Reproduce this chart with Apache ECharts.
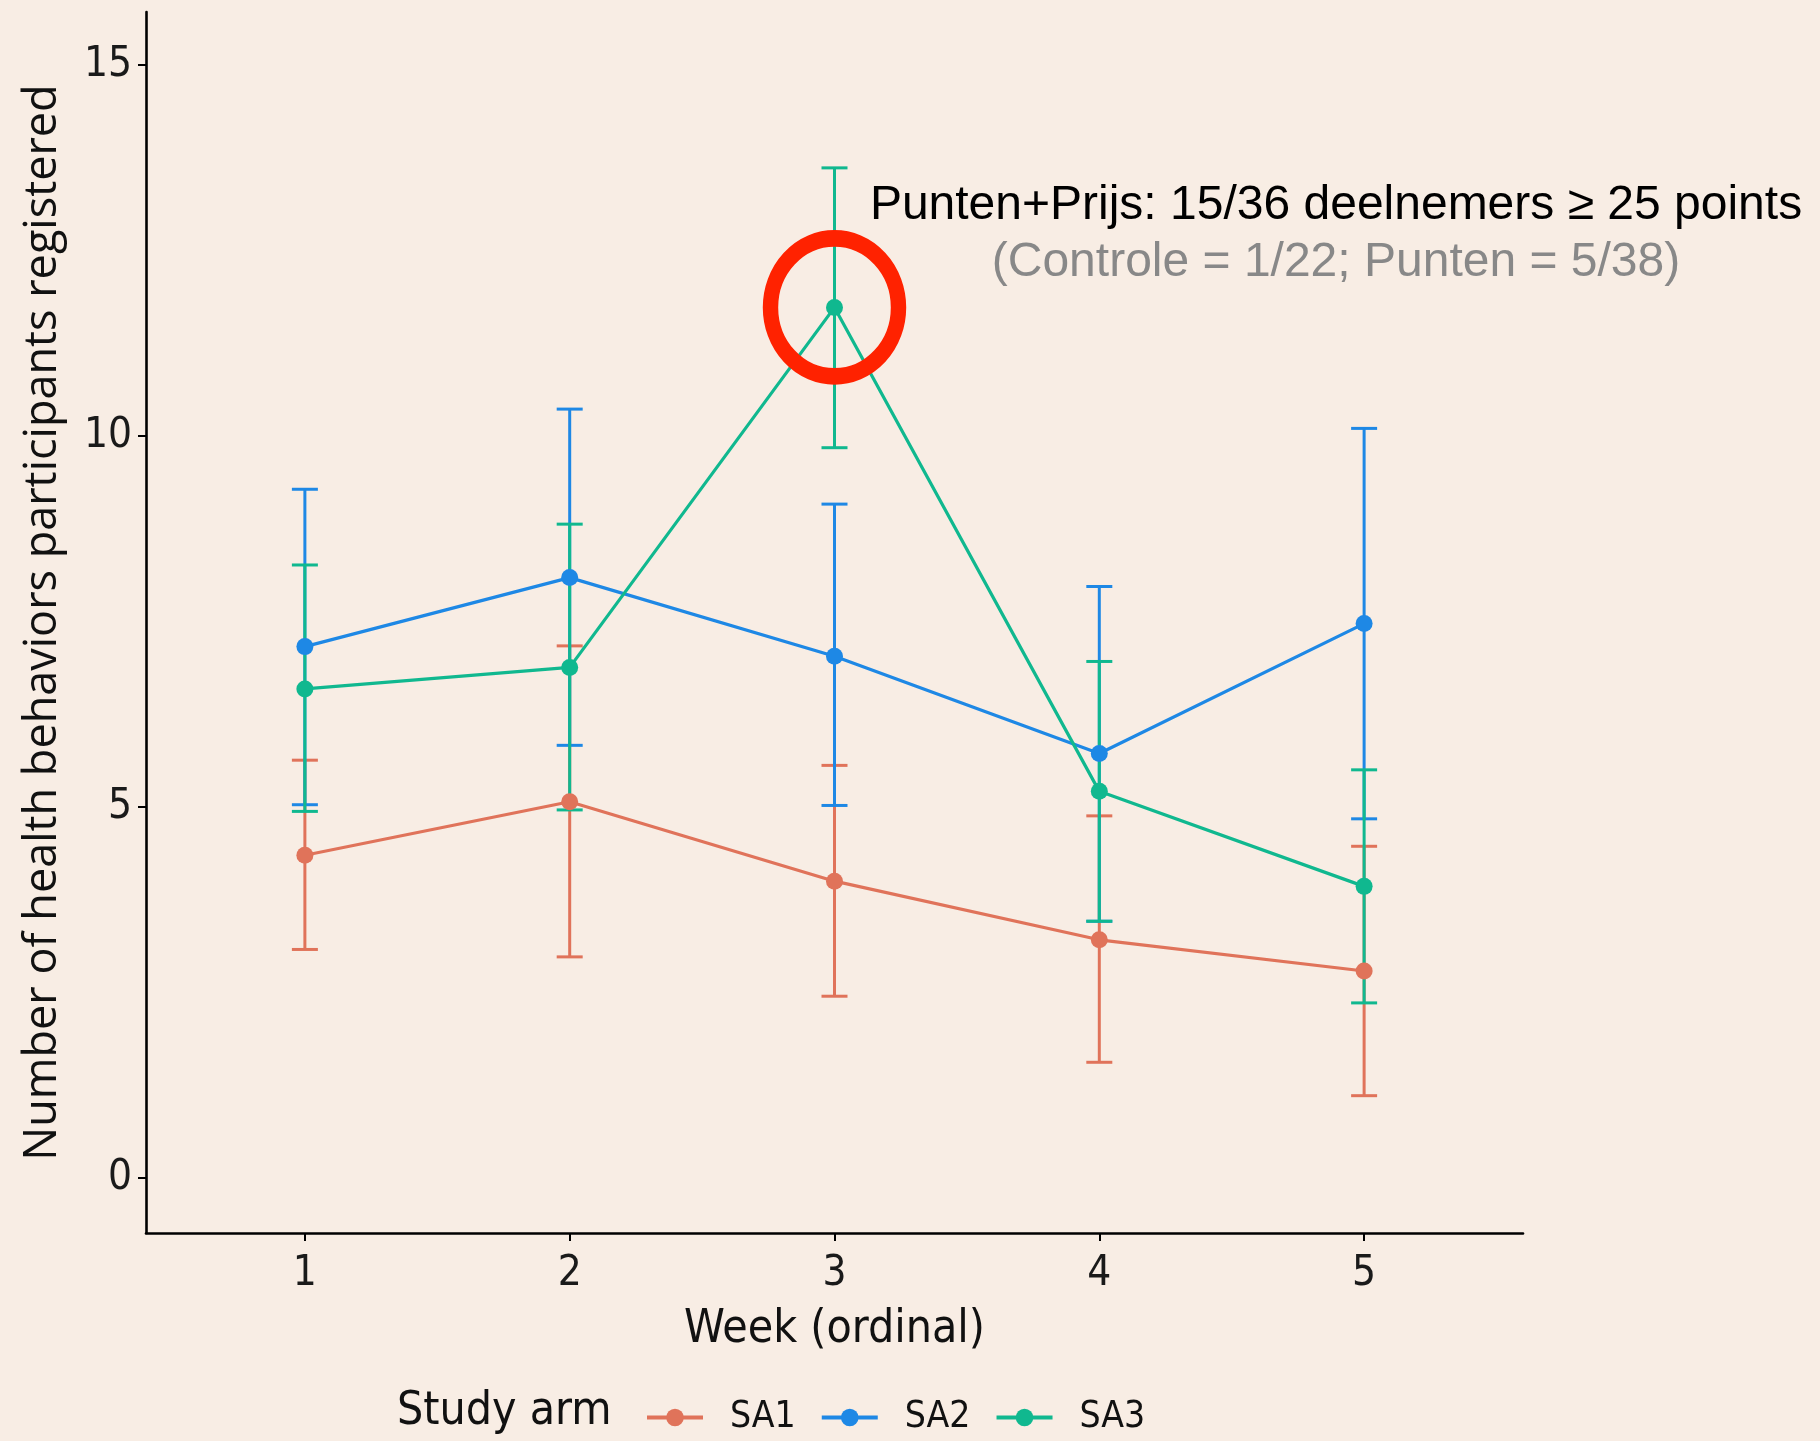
<!DOCTYPE html>
<html>
<head>
<meta charset="utf-8">
<script src="https://cdn.jsdelivr.net/npm/echarts@6/dist/echarts.min.js"></script>
<style>
  html, body { margin: 0; padding: 0; background: #f8ede4; }
  #chart { width: 1820px; height: 1441px; }
</style>
</head>
<body>
<div id="chart"></div>
<script>
// ---- Data ----
const weeks = [1, 2, 3, 4, 5];
const xTicks = [1, 2, 3, 4, 5];
const yTicks = [0, 5, 10, 15];

const sa1Mean  = [4.35, 5.07, 4.00, 3.21, 2.79];
const sa1Lower = [3.08, 2.98, 2.45, 1.56, 1.11];
const sa1Upper = [5.63, 7.17, 5.56, 4.88, 4.47];

const sa2Mean  = [7.16, 8.09, 7.03, 5.72, 7.47];
const sa2Lower = [5.03, 5.83, 5.02, 3.46, 4.84];
const sa2Upper = [9.28, 10.36, 9.08, 7.97, 10.10];

const sa3Mean  = [6.59, 6.88, 11.73, 5.21, 3.93];
const sa3Lower = [4.94, 4.96, 9.84, 3.46, 2.36];
const sa3Upper = [8.26, 8.81, 13.61, 6.96, 5.50];

const seriesNames = ['SA1', 'SA2', 'SA3'];
const highlightWeek = 3;   // the circled point (SA3, week 3)

const annotationLine1 = 'Punten+Prijs: 15/36 deelnemers \u2265 25 points';
const annotationLine2 = '(Controle = 1/22; Punten = 5/38)';

// ---- Styling ----
const colors = ['#e0735a', '#1e88e5', '#10b88f'];
const condensed = "'Liberation Sans Narrow', 'DejaVu Sans Condensed', Roboto, sans-serif";

const chart = echarts.init(document.getElementById('chart'), null, { renderer: 'canvas' });

function errSeries(name, lower, upper, color) {
  return {
    name: name + ' CI',
    type: 'custom',
    data: weeks.map((w, i) => [w, lower[i], upper[i]]),
    encode: { x: 0, y: [1, 2] },
    z: 2,
    silent: true,
    renderItem: function (params, api) {
      const x = api.value(0);
      const pLo = api.coord([x, api.value(1)]);
      const pHi = api.coord([x, api.value(2)]);
      const w = 13;
      const st = { stroke: color, lineWidth: 3 };
      return {
        type: 'group',
        children: [
          { type: 'line', shape: { x1: pHi[0], y1: pHi[1], x2: pLo[0], y2: pLo[1] }, style: st },
          { type: 'line', shape: { x1: pHi[0] - w, y1: pHi[1], x2: pHi[0] + w, y2: pHi[1] }, style: st },
          { type: 'line', shape: { x1: pLo[0] - w, y1: pLo[1], x2: pLo[0] + w, y2: pLo[1] }, style: st }
        ]
      };
    }
  };
}

function lineSeries(name, mean, color, extra) {
  return Object.assign({
    name: name,
    type: 'line',
    data: weeks.map((w, i) => [w, mean[i]]),
    symbol: 'circle',
    symbolSize: 17,
    z: 3,
    itemStyle: { color: color },
    lineStyle: { color: color, width: 3.2 }
  }, extra || {});
}

const option = {
  backgroundColor: '#f8ede4',
  animation: false,
  grid: { left: 146, right: 297, top: 12, bottom: 208, containLabel: false },
  xAxis: {
    type: 'value',
    min: 0.4,
    max: 5.6,
    name: 'Week (ordinal)',
    nameLocation: 'middle',
    nameGap: 74,
    nameTextStyle: { fontFamily: condensed, fontSize: 46, color: '#111' },
    axisLine: { show: true, onZero: false, lineStyle: { color: '#000', width: 2.6 } },
    axisTick: { show: true, length: 8, lineStyle: { color: '#000', width: 2 }, customValues: xTicks },
    axisLabel: { fontFamily: condensed, fontSize: 42, color: '#1a1a1a', margin: 20, customValues: xTicks },
    splitLine: { show: false }
  },
  yAxis: {
    type: 'value',
    min: -0.74,
    max: 15.71,
    name: 'Number of health behaviors participants registered',
    nameLocation: 'middle',
    nameGap: 80,
    nameTextStyle: { fontFamily: "'Open Sans', 'Noto Sans', sans-serif", fontSize: 45, color: '#111' },
    axisLine: { show: true, onZero: false, lineStyle: { color: '#000', width: 2.6 } },
    axisTick: { show: true, length: 8, lineStyle: { color: '#000', width: 2 }, customValues: yTicks },
    axisLabel: { fontFamily: condensed, fontSize: 42, color: '#1a1a1a', margin: 14, customValues: yTicks },
    splitLine: { show: false }
  },
  legend: {
    data: seriesNames,
    left: 640,
    top: 1394,
    itemWidth: 56,
    itemHeight: 22,
    itemGap: 24,
    lineStyle: { width: 4 },
    textStyle: { fontFamily: condensed, fontSize: 37, color: '#111', padding: [0, 0, 0, 22] }
  },
  graphic: [
    {
      type: 'text',
      left: 397,
      top: 1389,
      style: { text: 'Study arm', font: "46px " + condensed, fill: '#111' }
    },
    {
      type: 'text',
      x: 1336,
      y: 206,
      style: { text: annotationLine1, font: "48px 'Liberation Sans', Arial, sans-serif", fill: '#000', align: 'center', verticalAlign: 'middle' }
    },
    {
      type: 'text',
      x: 1336,
      y: 263,
      style: { text: annotationLine2, font: "48px 'Liberation Sans', Arial, sans-serif", fill: '#888888', align: 'center', verticalAlign: 'middle' }
    }
  ],
  series: [
    errSeries('SA1', sa1Lower, sa1Upper, colors[0]),
    errSeries('SA2', sa2Lower, sa2Upper, colors[1]),
    errSeries('SA3', sa3Lower, sa3Upper, colors[2]),
    lineSeries('SA1', sa1Mean, colors[0]),
    lineSeries('SA2', sa2Mean, colors[1]),
    lineSeries('SA3', sa3Mean, colors[2], {
      markPoint: {
        silent: true,
        z: 10,
        symbol: 'circle',
        symbolSize: [128, 138],
        itemStyle: { color: 'rgba(0,0,0,0)', borderColor: '#ff2200', borderWidth: 16 },
        label: { show: false },
        data: [{ coord: [highlightWeek, sa3Mean[weeks.indexOf(highlightWeek)]] }]
      }
    })
  ]
};

chart.setOption(option);
</script>
</body>
</html>
